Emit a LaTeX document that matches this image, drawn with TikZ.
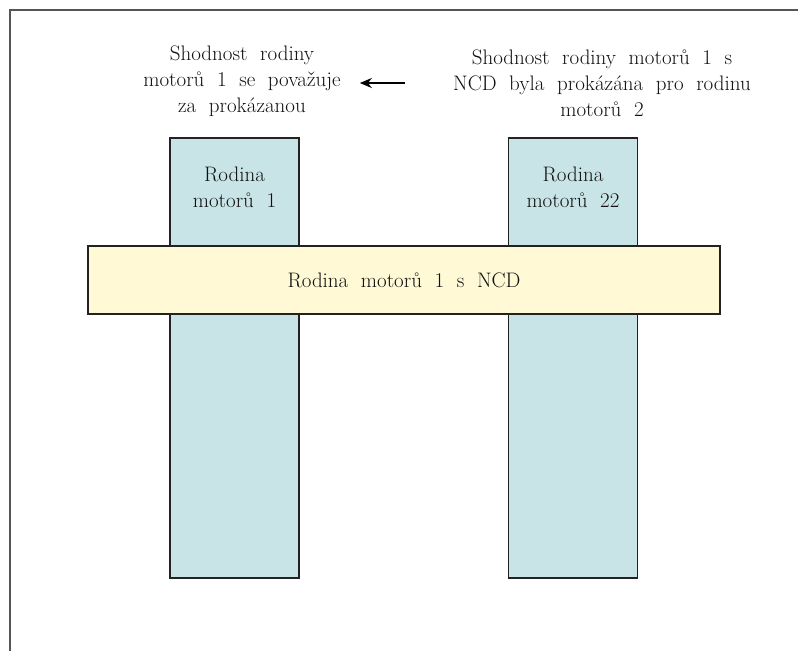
\documentclass[tikz,border=0pt]{standalone}
\usepackage{fontspec}
\usetikzlibrary{arrows.meta}
\definecolor{colblue}{HTML}{C9E4E6}
\definecolor{baryellow}{HTML}{FFF9D6}
\definecolor{framegray}{HTML}{555555}
\definecolor{edgedark}{HTML}{222222}
\definecolor{inkcol}{HTML}{111111}
\newcommand{\mywidespaces}{\spaceskip=0.6em plus 0.1em minus 0.05em\relax}
\begin{document}
\begin{tikzpicture}[x=1pt,y=-1pt,
  txt/.style={font=\fontsize{21}{26}\selectfont\mywidespaces,
     align=center, inner sep=3pt, text=inkcol},
  column/.style={draw=edgedark, line width=1.5pt, fill=colblue,
     minimum width=129pt, minimum height=440pt, inner sep=0pt},
  bar/.style={draw=edgedark, line width=1.5pt, fill=baryellow,
     minimum width=632pt, minimum height=68pt, inner sep=0pt, txt},
  note/.style={txt},
  pointer/.style={-{Stealth[length=12pt,width=10pt]}, line width=2pt, black}
]
\useasboundingbox (0,0) rectangle (798,651);
\draw[framegray, line width=1.6pt] (798,10) -- (10,10) -- (10,651);

\node[column] (col1) at (234.5,358) {};
\node[column] (col2) at (573,358) {};
\node[txt] (lab1) at (234.5,187) {Rodina\\motorů 1};
\node[txt] (lab2) at (573,187) {Rodina\\motorů 22};

\node[bar] (bar) at (404,280) {Rodina motorů 1 s NCD};

\node[note] (leftnote) at (242,81) {Shodnost rodiny\\motorů 1 se považuje\\za prokázanou};
\node[note] (rightnote) at (602,83) {Shodnost rodiny motorů 1 s\\NCD byla prokázána pro rodinu\\motorů 2};

\draw[pointer, shorten <=45pt, shorten >=16pt] (rightnote.west) -- (leftnote.east |- rightnote.west);
\end{tikzpicture}
\end{document}
